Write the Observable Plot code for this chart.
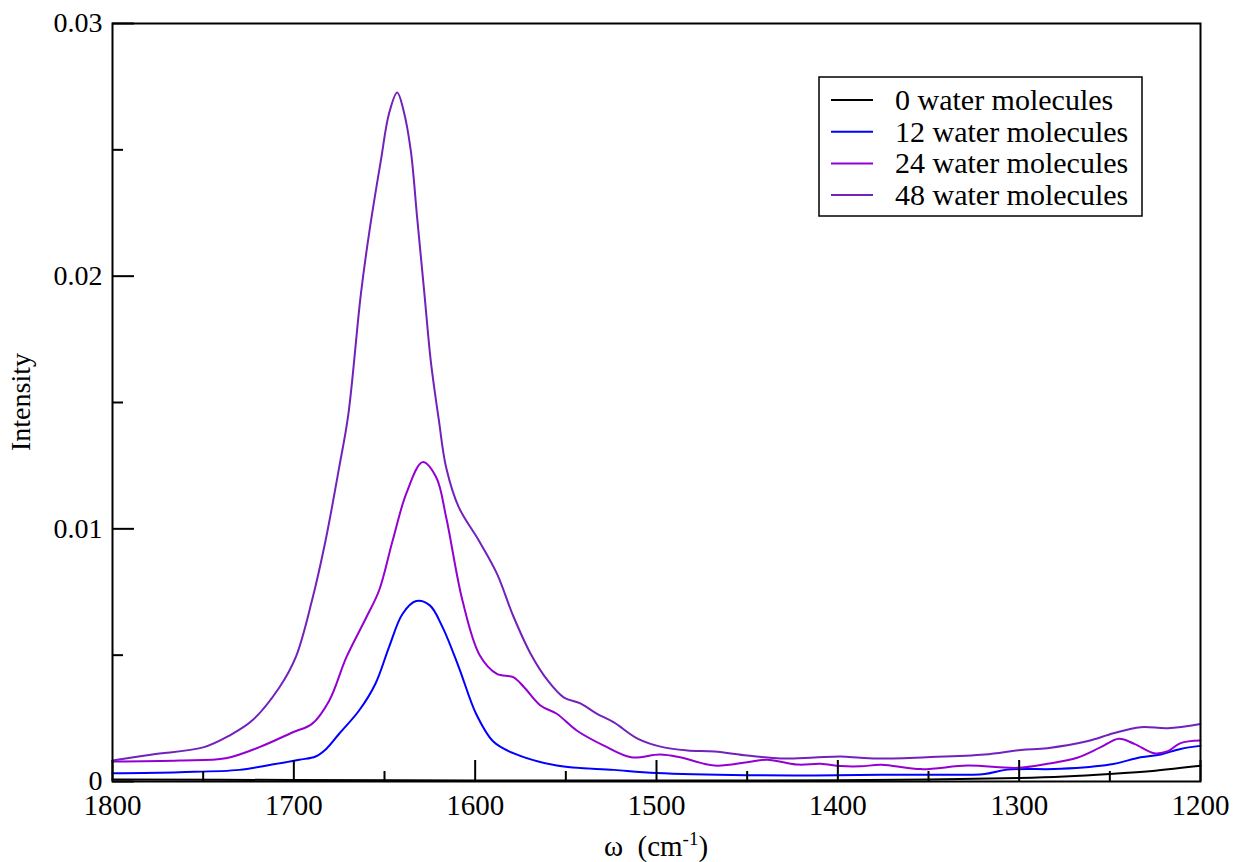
<!DOCTYPE html>
<html>
<head>
<meta charset="utf-8">
<script src="https://cdn.jsdelivr.net/npm/d3@7"></script>
<script src="https://cdn.jsdelivr.net/npm/@observablehq/plot@0.6"></script>
<style>
  html, body { margin: 0; padding: 0; background: white; }
  #chart { width: 1234px; height: 862px; }
</style>
</head>
<body>
<div id="chart"></div>
<script>
// ---- data ----
const seriesNames = ["0 water molecules", "12 water molecules", "24 water molecules", "48 water molecules"];
const seriesColors = ["#000000", "#0000ff", "#9400d3", "#7221bc"];

const w0 = [1800, 1700, 1600, 1500, 1400, 1350, 1300, 1275, 1250, 1225, 1200];
const i0 = [0.00008, 0.00006, 0.00004, 0.00004, 0.00005, 0.00008, 0.00014, 0.0002, 0.0003, 0.00043, 0.00062];

const w12 = [1800, 1763, 1730, 1712, 1697, 1688, 1682, 1675, 1664, 1655, 1647.5, 1640, 1632.5, 1625, 1618, 1609, 1599.5, 1590, 1579, 1555, 1523.5, 1500, 1450, 1413, 1376, 1351, 1319, 1306.5, 1277, 1250, 1233, 1222, 1211, 1200];
const i12 = [0.00033, 0.00037, 0.00046, 0.00067, 0.00086, 0.00099, 0.0013, 0.00189, 0.00281, 0.00387, 0.00532, 0.00664, 0.00714, 0.00697, 0.00611, 0.00452, 0.00268, 0.00158, 0.00112, 0.00063, 0.00046, 0.00034, 0.00025, 0.00024, 0.00027, 0.00027, 0.0003, 0.00047, 0.0005, 0.00067, 0.00096, 0.00107, 0.00129, 0.00141];

const w24 = [1800, 1763, 1737.5, 1719, 1700.5, 1690, 1680.5, 1671, 1660, 1653, 1645.5, 1638, 1629, 1621.5, 1616, 1607, 1597.5, 1588, 1579, 1573, 1564, 1555, 1544, 1529, 1514, 1498, 1487, 1468, 1450, 1439, 1422, 1409.5, 1398.5, 1387.5, 1376, 1354, 1328.5, 1301, 1284.5, 1268, 1255, 1245, 1236.5, 1225.5, 1218, 1211, 1200];
const i24 = [0.00079, 0.00083, 0.00092, 0.00136, 0.00195, 0.00228, 0.0032, 0.00492, 0.0065, 0.00756, 0.00954, 0.01139, 0.01264, 0.01204, 0.01046, 0.00716, 0.0050, 0.00426, 0.00413, 0.00373, 0.00301, 0.00268, 0.00202, 0.00142, 0.00096, 0.00107, 0.00096, 0.00063, 0.00076, 0.00086, 0.00067, 0.0007, 0.00061, 0.0006, 0.00066, 0.00049, 0.00063, 0.00054, 0.0007, 0.00094, 0.00136, 0.00169, 0.00149, 0.00112, 0.0012, 0.00152, 0.00162];

const w48 = [1800, 1778, 1750, 1735.5, 1723, 1708, 1699, 1690, 1682.5, 1675, 1670, 1663, 1658, 1652, 1647.5, 1643, 1639.5, 1635.5, 1632, 1628, 1624.5, 1620, 1616, 1609, 1598, 1588, 1579, 1569.5, 1560, 1551, 1542, 1533, 1523.5, 1510.5, 1496, 1483, 1468, 1450, 1431.5, 1413, 1398.5, 1387.5, 1376, 1351, 1319, 1299, 1284.5, 1262, 1248, 1233, 1218, 1200];
const i48 = [0.00083, 0.00107, 0.00135, 0.00182, 0.00241, 0.00372, 0.00491, 0.00716, 0.00954, 0.01243, 0.0145, 0.01931, 0.02193, 0.02458, 0.02644, 0.02727, 0.02656, 0.02497, 0.02232, 0.01931, 0.01666, 0.01429, 0.01243, 0.01085, 0.00954, 0.00823, 0.00655, 0.00507, 0.0040, 0.00332, 0.00309, 0.00269, 0.00234, 0.0017, 0.00135, 0.00123, 0.00119, 0.00103, 0.00091, 0.00095, 0.00099, 0.00094, 0.00091, 0.00096, 0.00107, 0.00125, 0.00132, 0.0016, 0.00191, 0.00215, 0.00211, 0.00228];

const xMajorTicks = [1800, 1700, 1600, 1500, 1400, 1300, 1200];
const xMinorTicks = [1750, 1650, 1550, 1450, 1350, 1250];
const yMajorTicks = [0, 0.01, 0.02, 0.03];
const yMinorTicks = [0.005, 0.015, 0.025];
const xLabel = "ω  (cm";
const xLabelSup = "-1";
const yLabel = "Intensity";

// ---- build table ----
const wArrays = [w0, w12, w24, w48];
const iArrays = [i0, i12, i24, i48];
const rows = seriesNames.flatMap((name, s) => wArrays[s].map((w, k) => ({name, w, I: iArrays[s][k]})));

// ---- layout ----
const W = 1234, H = 862;
const mL = 112, mR = 34, mT = 23, mB = 81;
const frameW = W - mL - mR;
const frameH = H - mT - mB;
const SERIF = "Liberation Serif";

function annotations(index, scales, values, dims) {
  const g = d3.create("svg:g").attr("fill", "black");
  // x axis title
  const cx = dims.marginLeft + (dims.width - dims.marginLeft - dims.marginRight) / 2;
  const t = g.append("text").attr("x", cx).attr("y", H - 6).attr("text-anchor", "middle").attr("font-size", 29);
  t.append("tspan").text(xLabel);
  t.append("tspan").attr("dy", -11).attr("font-size", 19).text(xLabelSup);
  t.append("tspan").attr("dy", 11).text(")");
  // y axis title
  const cy = dims.marginTop + (dims.height - dims.marginTop - dims.marginBottom) / 2;
  g.append("text").attr("transform", `translate(30,${cy}) rotate(-90)`).attr("text-anchor", "middle").attr("font-size", 28).text(yLabel);
  // legend
  const lx = 819, ly = 77, lw = 323, lh = 139;
  g.append("rect").attr("x", lx).attr("y", ly).attr("width", lw).attr("height", lh)
    .attr("fill", "white").attr("stroke", "black").attr("stroke-width", 1.5);
  seriesNames.forEach((name, k) => {
    const yy = ly + 23 + k * 31.7;
    g.append("line").attr("x1", lx + 12).attr("x2", lx + 54).attr("y1", yy).attr("y2", yy)
      .attr("stroke", seriesColors[k]).attr("stroke-width", 2);
    g.append("text").attr("x", lx + 76).attr("y", yy + 10).attr("text-anchor", "start").attr("font-size", 30).text(name);
  });
  return g.node();
}

const chart = Plot.plot({
  width: W, height: H,
  marginLeft: mL, marginRight: mR, marginTop: mT, marginBottom: mB,
  style: {background: "white", color: "black"},
  x: {domain: [1800, 1200]},
  y: {domain: [0, 0.03]},
  color: {domain: seriesNames, range: seriesColors},
  marks: [
    Plot.line(rows, {x: "w", y: "I", z: "name", stroke: "name", curve: "catmull-rom", strokeWidth: 2}),
    Plot.tickX(xMajorTicks, {x: d => d, insetTop: frameH - 21, stroke: "black", strokeWidth: 2}),
    Plot.tickX(xMinorTicks, {x: d => d, insetTop: frameH - 10, stroke: "black", strokeWidth: 2}),
    Plot.tickY(yMajorTicks, {y: d => d, insetRight: frameW - 22, stroke: "black", strokeWidth: 2}),
    Plot.tickY(yMinorTicks, {y: d => d, insetRight: frameW - 11, stroke: "black", strokeWidth: 2}),
    Plot.axisX(xMajorTicks, {anchor: "bottom", tickSize: 0, tickPadding: 13, fontSize: 29, label: null, tickFormat: d => String(d)}),
    Plot.axisY(yMajorTicks, {anchor: "left", tickSize: 0, tickPadding: 10, fontSize: 28, label: null, tickFormat: d => d === 0 ? "0" : d.toFixed(2)}),
    Plot.frame({stroke: "black", strokeWidth: 2}),
    annotations
  ]
});
d3.select(chart).attr("font-family", SERIF).style("font-family", SERIF);
d3.select(chart).selectAll("g, text, tspan").attr("font-family", SERIF).style("font-family", SERIF);
document.getElementById("chart").appendChild(chart);
</script>
</body>
</html>
